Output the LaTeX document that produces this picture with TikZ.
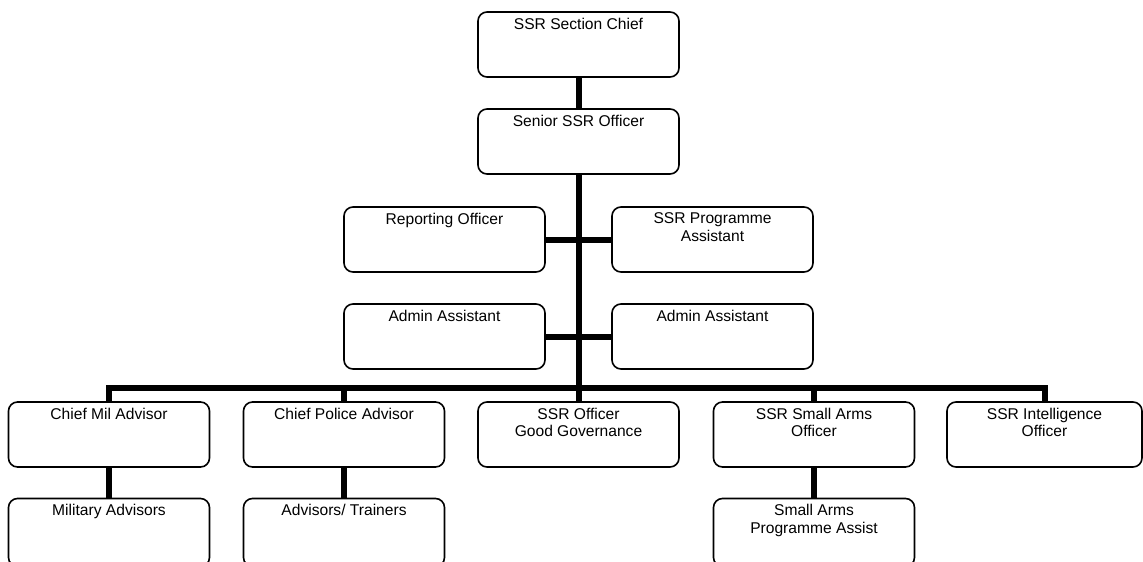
\documentclass[tikz,border=0pt]{standalone}
\usepackage{fontspec}
\setmainfont{Liberation Sans}
\begin{document}
\begin{tikzpicture}[x=1pt,y=-1pt,
  box/.style={draw=black, line width=1.6pt, rounded corners=9pt, minimum width=201pt, minimum height=65pt, inner sep=0pt},
  boxtext/.style={anchor=north, inner sep=6.5pt, align=center, font=\fontsize{15.6}{17.6}\selectfont},
  conn/.style={line width=6pt, line join=miter}]
\useasboundingbox (0,0) rectangle (1143,562);
\fill[white] (0,0) rectangle (1143,562);
% boxes
\node[box, label={[boxtext]north:SSR Section Chief}] (chief) at (578.5,44.5) {};
\node[box, label={[boxtext]north:Senior SSR Officer}] (senior) at (578.5,141.5) {};
\node[box, label={[boxtext]north:Reporting Officer}] (report) at (444.5,239.5) {};
\node[box, label={[boxtext]north:SSR Programme\\Assistant}] (prog) at (712.5,239.5) {};
\node[box, label={[boxtext]north:Admin Assistant}] (adminL) at (444.5,336.5) {};
\node[box, label={[boxtext]north:Admin Assistant}] (adminR) at (712.5,336.5) {};
\node[box, label={[boxtext]north:Chief Mil Advisor}] (mil) at (109,434.5) {};
\node[box, label={[boxtext]north:Chief Police Advisor}] (police) at (344,434.5) {};
\node[box, label={[boxtext]north:SSR Officer\\Good Governance}] (gov) at (578.5,434.5) {};
\node[box, label={[boxtext]north:SSR Small Arms\\Officer}] (arms) at (814,434.5) {};
\node[box, minimum width=195pt, label={[boxtext]north:SSR Intelligence\\Officer}] (intel) at (1044.5,434.5) {};
\node[box, minimum height=68pt, label={[boxtext]north:Military Advisors}] (milad) at (109,532.5) {};
\node[box, minimum height=68pt, label={[boxtext]north:Advisors/ Trainers}] (trainers) at (344,532.5) {};
\node[box, minimum height=68pt, label={[boxtext]north:Small Arms\\Programme Assist}] (armsassist) at (814,532.5) {};
% connectors
\coordinate (bus) at (578.5,388);
\draw[conn] (chief.south) -- (senior.north);
\draw[conn] (senior.south) -- (gov.north);
\draw[conn] (report.east) -- (prog.west);
\draw[conn] (adminL.east) -- (adminR.west);
\draw[conn] (mil.north) -- (mil.north |- bus) -| (intel.north);
\draw[conn] (police.north) -- (police.north |- bus);
\draw[conn] (arms.north) -- (arms.north |- bus);
\draw[conn] (mil.south) -- (milad.north);
\draw[conn] (police.south) -- (trainers.north);
\draw[conn] (arms.south) -- (armsassist.north);
\end{tikzpicture}
\end{document}
